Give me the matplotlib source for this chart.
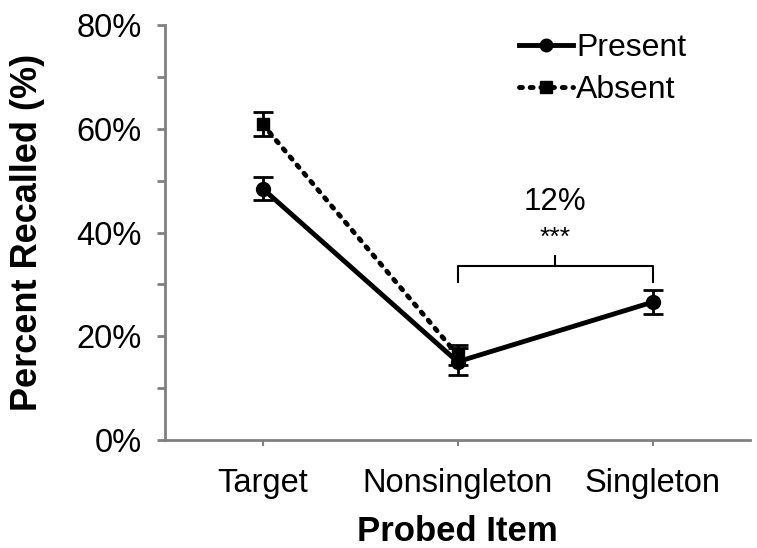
import matplotlib.pyplot as plt
from matplotlib.lines import Line2D
from matplotlib.ticker import MultipleLocator, FuncFormatter

categories = ["Target", "Nonsingleton", "Singleton"]
present = [48.5, 15.1, 26.6]
present_err = [2.3, 2.6, 2.3]
absent = [60.9, 16.4]
absent_err = [2.3, 2.0]

plt.rcParams["font.family"] = ["Liberation Sans", "DejaVu Sans"]

fig = plt.figure(figsize=(7.57, 5.48), dpi=100)
ax = fig.add_axes([0.218, 0.197, 0.773, 0.757])

x = list(range(len(categories)))
dotted = (0, (0.6, 1.6))

ax.errorbar(x[:len(absent)], absent, yerr=absent_err, color="black", lw=3.5,
            linestyle=dotted, dash_capstyle="round", marker="s",
            ms=9, elinewidth=2, capsize=7, capthick=2, zorder=3)
ax.errorbar(x, present, yerr=present_err, color="black", lw=3.5, marker="o",
            ms=10, elinewidth=2, capsize=7, capthick=2, zorder=4)

# bracket between nonsingleton and singleton
by, bh = 33.5, 3.0
ax.plot([1, 1, 2, 2], [by - bh, by, by, by - bh], color="black", lw=1.5,
        solid_joinstyle="round")
ax.plot([1.5, 1.5], [by, by + 2], color="black", lw=1.5)
ax.text(1.5, 46, "12%", ha="center", va="center", fontsize=22.5)
ax.text(1.5, 39.0, "***", ha="center", va="center", fontsize=19)

ax.set_xlim(-0.5, 2.5)
ax.set_ylim(0, 80)
ax.set_xticks(x)
ax.set_xticklabels(categories, fontsize=23.5)
ax.yaxis.set_major_locator(MultipleLocator(10))
ax.yaxis.set_major_formatter(FuncFormatter(lambda v, p: f"{v:.0f}%" if v % 20 == 0 else ""))
ax.tick_params(axis="y", labelsize=23.5, direction="out", length=6, width=2, color="#808080", pad=11)
ax.tick_params(axis="x", direction="out", length=4, width=1.5, color="#808080", pad=16)

for side in ["top", "right"]:
    ax.spines[side].set_visible(False)
for side in ["left", "bottom"]:
    ax.spines[side].set_color("#808080")
    ax.spines[side].set_linewidth(2)

ax.set_ylabel("Percent Recalled (%)", fontsize=26, fontweight="bold")
ax.yaxis.set_label_coords(-0.205, 0.5)
ax.set_xlabel("Probed Item", fontsize=25, fontweight="bold")
ax.xaxis.set_label_coords(0.5, -0.181)

handles = [
    Line2D([], [], color="black", lw=3.5, marker="o", ms=9),
    Line2D([], [], color="black", lw=3.5, linestyle=dotted, dash_capstyle="round",
           marker="s", ms=9),
]
ax.legend(handles, ["Present", "Absent"], loc="upper right", bbox_to_anchor=(0.94, 1.05),
          frameon=False, fontsize=23, handlelength=1.7, handletextpad=0.1,
          labelspacing=0.38)

fig.savefig("out.png", dpi=100)
